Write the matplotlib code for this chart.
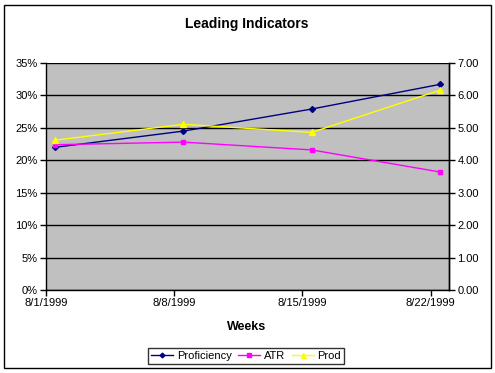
import matplotlib
matplotlib.use("Agg")
import matplotlib.pyplot as plt
import numpy as np
from matplotlib.patches import Rectangle
from matplotlib.ticker import PercentFormatter, FormatStrFormatter

weeks = ["8/1/1999", "8/8/1999", "8/15/1999", "8/22/1999"]
day_offsets = [0, 7, 14, 21]
proficiency = [0.220, 0.245, 0.279, 0.317]
atr = [0.224, 0.228, 0.216, 0.182]
prod = [4.62, 5.11, 4.86, 6.16]

plt.rcParams['font.family'] = ['Liberation Sans', 'DejaVu Sans']

fig = plt.figure(figsize=(4.95, 3.73), dpi=100)
fig.patches.append(Rectangle((4/495, 1 - 368/373), 487/495, 363/373, transform=fig.transFigure,
                             fill=False, edgecolor='black', linewidth=1.0))

ax = fig.add_axes([46/495, 1 - 290/373, 403/495, 227/373])
ax.set_facecolor('#C0C0C0')
x = np.array(day_offsets) + 0.5
ax.set_xlim(0, 22)
ax.set_ylim(0, 0.35)
ax.set_yticks(np.arange(0, 0.351, 0.05))
ax.yaxis.set_major_formatter(PercentFormatter(1.0, decimals=0))
ax.set_xticks(day_offsets)
ax.set_xticklabels(weeks)
ax.grid(axis='y', color='black', linewidth=1.0)
ax.set_axisbelow(True)
ax.spines['top'].set_visible(False)
for s in ['left', 'bottom', 'right']:
    ax.spines[s].set_linewidth(1.0)
ax.tick_params(direction='out', length=4, width=1, labelsize=8, pad=2)

l1, = ax.plot(x, proficiency, color='#000080', marker='D', markersize=3, linewidth=1.0, label='Proficiency')
l2, = ax.plot(x, atr, color='#FF00FF', marker='s', markersize=3.5, linewidth=1.0, label='ATR')

ax2 = ax.twinx()
ax2.set_ylim(0, 7)
ax2.set_yticks(np.arange(0, 7.01, 1))
ax2.yaxis.set_major_formatter(FormatStrFormatter('%.2f'))
ax2.tick_params(direction='out', length=4, width=1, labelsize=8, pad=2)
for s in ['top', 'left', 'bottom']:
    ax2.spines[s].set_visible(False)
ax2.spines['right'].set_linewidth(1.0)
l3, = ax2.plot(x, prod, color='#FFFF00', marker='^', markersize=4.5, linewidth=1.0, label='Prod')

fig.text(247/495, 1 - 24/373, 'Leading Indicators', ha='center', va='center', fontsize=10, fontweight='bold')
fig.text(247/495, 1 - 327/373, 'Weeks', ha='center', va='center', fontsize=9, fontweight='bold')

leg = fig.legend(handles=[l1, l2, l3], loc='center', bbox_to_anchor=(246/495, 1 - 356/373),
                 ncol=3, fontsize=8, frameon=True, fancybox=False, edgecolor='black',
                 handlelength=2.0, handletextpad=0.3, columnspacing=0.6, borderpad=0.3,
                 borderaxespad=0, markerscale=0.8)
leg.get_frame().set_linewidth(1.0)

fig.savefig('out.png', dpi=100)
